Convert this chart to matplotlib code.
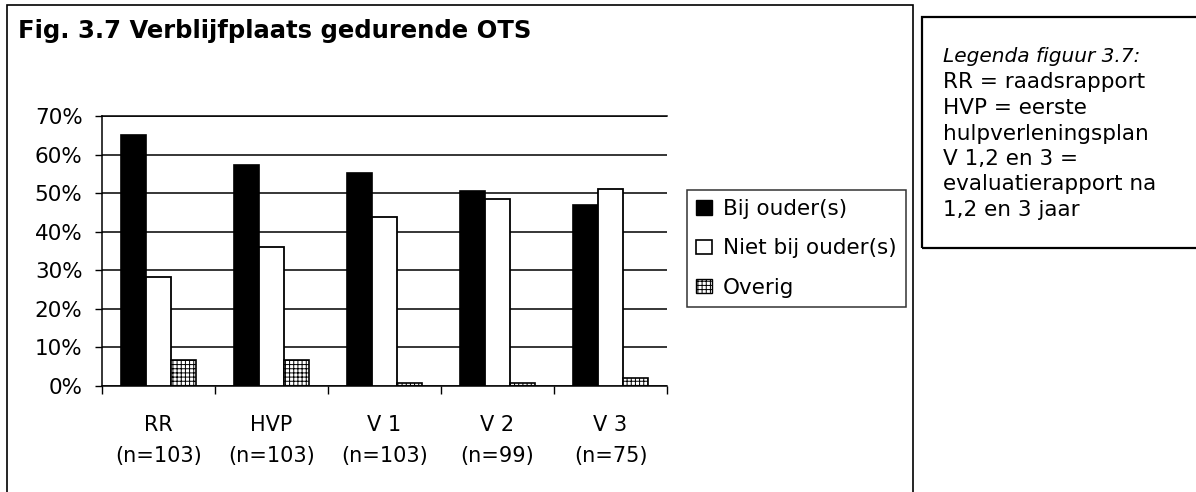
import matplotlib
matplotlib.use('Agg')
import matplotlib.pyplot as plt
import numpy as np
from matplotlib.patches import Rectangle, Patch

# ---- data ----
categories = ['RR', 'HVP', 'V 1', 'V 2', 'V 3']
sample_sizes = ['(n=103)', '(n=103)', '(n=103)', '(n=99)', '(n=75)']
bij_ouders = [65.2, 57.3, 55.1, 50.6, 46.9]
niet_bij_ouders = [28.3, 36.0, 43.8, 48.4, 51.0]
overig = [6.8, 6.8, 0.8, 0.8, 2.2]
series_names = ['Bij ouder(s)', 'Niet bij ouder(s)', 'Overig']
ytick_values = [0, 10, 20, 30, 40, 50, 60, 70]
ytick_labels = ['0%', '10%', '20%', '30%', '40%', '50%', '60%', '70%']
title = 'Fig. 3.7 Verblijfplaats gedurende OTS'
note_title = 'Legenda figuur 3.7:'
note_lines = ['RR = raadsrapport', 'HVP = eerste', 'hulpverleningsplan',
              'V 1,2 en 3 =', 'evaluatierapport na', '1,2 en 3 jaar']

plt.rcParams['font.family'] = ['DejaVu Sans']
plt.rcParams['hatch.linewidth'] = 0.7

W, H = 1196, 492
fig = plt.figure(figsize=(W / 100, H / 100), dpi=100)


def fx(px):
    return px / W


def fy(py):
    return 1 - py / H


ax = fig.add_axes([fx(102), fy(386), fx(667) - fx(102), fy(116) - fy(386)])
x = np.arange(len(categories)) + 0.5
bw = 25 / 113
ax.bar(x - bw, bij_ouders, bw, color='black', edgecolor='black', lw=1.2, zorder=3)
ax.bar(x, niet_bij_ouders, bw, color='white', edgecolor='black', lw=1.3, zorder=3)
ax.bar(x + bw, overig, bw, color='white', edgecolor='black', hatch='++++',
       lw=1.2, zorder=3)

ax.set_xlim(0, len(categories))
ax.set_ylim(0, 70)
ax.set_yticks(ytick_values)
ax.set_yticklabels(ytick_labels)
ax.yaxis.grid(True, color='black', lw=1.1)
ax.set_axisbelow(True)
ax.tick_params(axis='y', direction='out', length=5, width=1, pad=9,
               labelsize=15.5, colors='black')
ax.set_xticks(x)
ax.set_xticklabels([f'{c}\n{n}' for c, n in zip(categories, sample_sizes)],
                   fontsize=15, linespacing=1.66)
ax.tick_params(axis='x', which='major', length=0, pad=21)
ax.set_xticks(np.arange(len(categories) + 1), minor=True)
ax.tick_params(axis='x', which='minor', direction='out', length=6, width=1)
ax.spines['right'].set_visible(False)
for s in ['left', 'bottom', 'top']:
    ax.spines[s].set_linewidth(1.1)

handles = [Patch(facecolor='black', edgecolor='black', lw=1),
           Patch(facecolor='white', edgecolor='black', lw=1.2),
           Patch(facecolor='white', edgecolor='black', hatch='++++', lw=1)]
leg = fig.legend(handles, series_names, loc='upper left',
                 bbox_to_anchor=(fx(687), fy(190)), frameon=True, fancybox=False,
                 edgecolor='black', fontsize=15.5, handlelength=0.75,
                 handleheight=0.65, handletextpad=0.5, labelspacing=0.9,
                 borderpad=0.42, borderaxespad=0)
leg.get_frame().set_linewidth(1.1)

# chart frame (bottom cut off)
fig.add_artist(Rectangle((fx(7), -0.1), fx(913) - fx(7), fy(5) + 0.1, fill=False,
                         lw=1.2, edgecolor='black', transform=fig.transFigure))
# note box
fig.add_artist(Rectangle((fx(922), fy(248)), 1.1 - fx(922), fy(17) - fy(248),
                         fill=False, lw=1.6, edgecolor='black',
                         transform=fig.transFigure))

fig.text(fx(18), fy(38), title, fontsize=17.5, fontweight='bold', ha='left',
         va='baseline')

fig.text(fx(943), fy(57), note_title, fontsize=14.5, style='italic', ha='left',
         va='center')
for i, line in enumerate(note_lines):
    fig.text(fx(943), fy(57 + 25.5 * (i + 1)), line, fontsize=15.5, ha='left',
             va='center')

fig.savefig('out.png', dpi=100)
